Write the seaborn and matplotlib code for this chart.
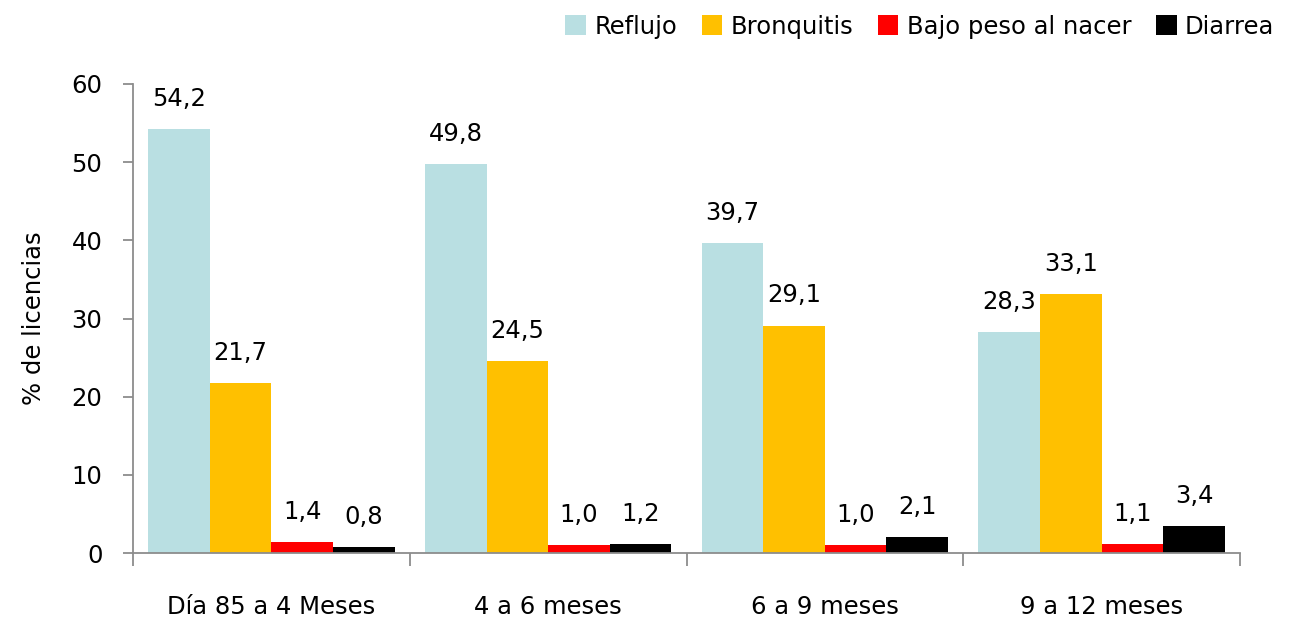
import matplotlib
matplotlib.use("Agg")
import matplotlib.pyplot as plt
from matplotlib.patches import Patch
import seaborn as sns
import pandas as pd

periodos = ["Día 85 a 4 Meses", "4 a 6 meses", "6 a 9 meses", "9 a 12 meses"]
causas = ["Reflujo", "Bronquitis", "Bajo peso al nacer", "Diarrea"]
reflujo = [54.2, 49.8, 39.7, 28.3]
bronquitis = [21.7, 24.5, 29.1, 33.1]
bajo_peso = [1.4, 1.0, 1.0, 1.1]
diarrea = [0.8, 1.2, 2.1, 3.4]
colores = ["#B9DFE2", "#FFC000", "#FF0000", "#000000"]

series = [reflujo, bronquitis, bajo_peso, diarrea]
df = pd.DataFrame({
    "periodo": [p for s in series for p in periodos],
    "causa": [c for c, s in zip(causas, series) for _ in s],
    "valor": [v for s in series for v in s],
})

sns.set_style("white")
plt.rcParams["font.family"] = ["DejaVu Sans"]
plt.rcParams["text.color"] = "black"
plt.rcParams["axes.labelcolor"] = "black"
plt.rcParams["xtick.labelcolor"] = "black"
plt.rcParams["ytick.labelcolor"] = "black"

FS = 17.5

fig = plt.figure(figsize=(12.89, 6.19), dpi=100)
ax = fig.add_axes([0.1032, 0.1066, 0.8588, 0.7577])

sns.barplot(data=df, x="periodo", y="valor", hue="causa", order=periodos,
            hue_order=causas, palette=colores, width=0.89, saturation=1,
            linewidth=0, ax=ax, legend=False, errorbar=None)

for cont in ax.containers:
    labels = [f"{b.get_height():.1f}".replace(".", ",") for b in cont]
    ax.bar_label(cont, labels=labels, padding=13, fontsize=FS, color="black")

ax.set_ylim(0, 60)
ax.set_xlim(-0.5, 3.5)
ax.set_yticks(range(0, 61, 10))
ax.set_ylabel("% de licencias", fontsize=FS, labelpad=18)
ax.set_xlabel("")

for s in ["top", "right"]:
    ax.spines[s].set_visible(False)
for s in ["left", "bottom"]:
    ax.spines[s].set_color("#8C8C8C")
    ax.spines[s].set_linewidth(1.3)

ax.tick_params(axis="y", which="major", direction="out", length=7, width=1.3,
               color="#8C8C8C", labelsize=FS, pad=15, left=True)
ax.tick_params(axis="x", which="major", length=0, labelsize=FS, pad=30)
ax.set_xticks([-0.5, 0.5, 1.5, 2.5, 3.5], minor=True)
ax.tick_params(axis="x", which="minor", direction="out", length=9, width=1.3,
               color="#8C8C8C", bottom=True)

handles = [Patch(facecolor=c, edgecolor="none") for c in colores]
fig.legend(handles, causas, loc="upper right", bbox_to_anchor=(1.0, 1.0),
           ncol=4, frameon=False, fontsize=FS, handlelength=0.85,
           handleheight=0.85, handletextpad=0.35, columnspacing=1.0,
           borderaxespad=0.2)

fig.savefig("out.png", dpi=100)
